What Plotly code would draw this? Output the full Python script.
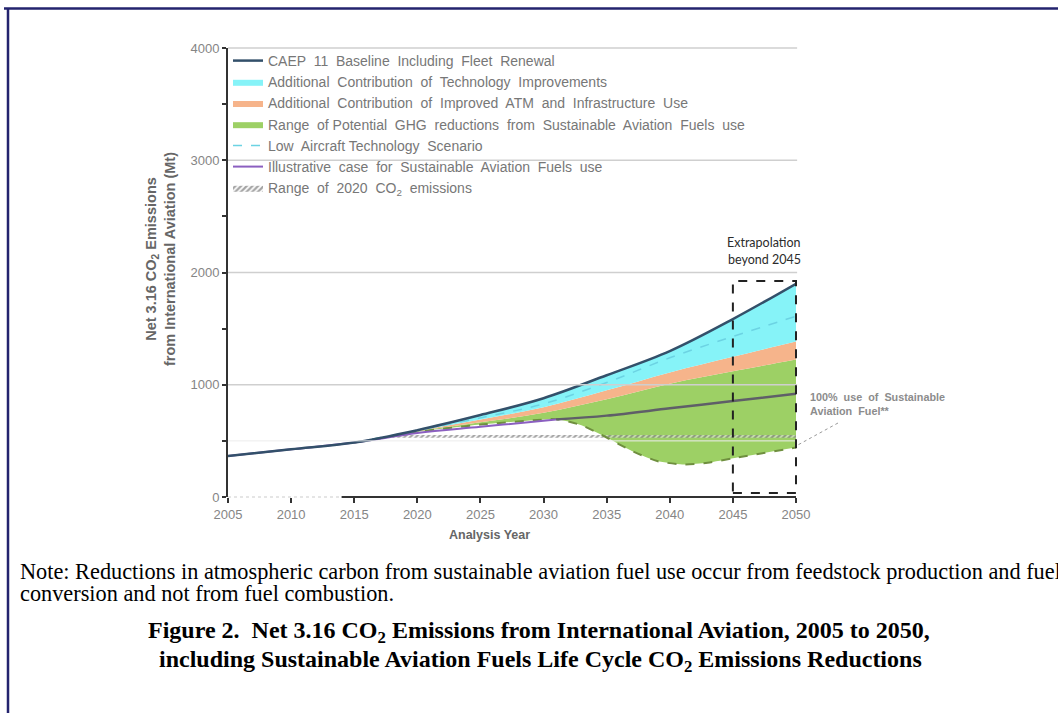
import plotly.graph_objects as go

# ---- data (Mt CO2) ----
years = [2005, 2010, 2015, 2020, 2025, 2030, 2035, 2040, 2045, 2050]
baseline = [365, 425, 485, 595, 730, 880, 1085, 1300, 1585, 1900]

band_years = [2015, 2020, 2025, 2030, 2035, 2040, 2045, 2050]
atm_top = [485, 590, 690, 800, 950, 1110, 1250, 1385]
saf_top = [485, 585, 665, 750, 870, 1010, 1120, 1225]
low_tech = [485, 592, 705, 830, 1020, 1240, 1430, 1610]

saf_low_years = [2015, 2020, 2025, 2030, 2031, 2033, 2035, 2037, 2039, 2041, 2043, 2045, 2050]
saf_low = [485, 580, 645, 690, 695, 640, 530, 410, 320, 290, 305, 345, 440]

saf_case_years = [2005, 2010, 2015, 2020, 2025, 2030, 2031]
saf_case = [365, 425, 485, 570, 625, 680, 690]
saf_full_years = [2031, 2035, 2040, 2045, 2050]
saf_full = [690, 725, 790, 855, 920]

range2020_years = [2018, 2050]
range2020_low = [528, 528]
range2020_high = [552, 552]

x_ticks = [2005, 2010, 2015, 2020, 2025, 2030, 2035, 2040, 2045, 2050]
y_ticks = [0, 500, 1000, 1500, 2000, 2500, 3000, 3500, 4000]
y_labels = ["0", "", "1000", "", "2000", "", "3000", "", "4000"]
grid_levels = [1000, 2000, 3000, 4000]

X0, X1 = 2005, 2050
Y0, Y1 = 0, 4000

SANS = "Liberation Sans, Arial, sans-serif"
SERIF = "Liberation Serif, Times New Roman, serif"

C_BASE = "#33506a"
C_TECH = "#86f3f8"
C_ATM = "#f6b48b"
C_SAF = "#9dd065"
C_LOW = "#6cd3e3"
C_PURPLE = "#8b5fc0"
C_GREY = "#5f5f68"
C_OLIVE = "#6f8f3f"

fig = go.Figure()

# stacked bands: SAF range, ATM, technology
fig.add_trace(go.Scatter(x=saf_low_years, y=saf_low, mode="lines",
                         line=dict(width=0, shape="spline", smoothing=0.6),
                         showlegend=False, hoverinfo="skip"))
fig.add_trace(go.Scatter(x=band_years, y=saf_top, mode="lines", fill="tonexty",
                         fillcolor=C_SAF, line=dict(width=0, color=C_SAF, shape="spline"),
                         name="Range  of Potential  GHG  reductions  from  Sustainable  Aviation  Fuels  use",
                         legendrank=4))
fig.add_trace(go.Scatter(x=band_years, y=atm_top, mode="lines", fill="tonexty",
                         fillcolor=C_ATM, line=dict(width=0, color=C_ATM, shape="spline"),
                         name="Additional  Contribution  of  Improved  ATM  and  Infrastructure  Use",
                         legendrank=3))
fig.add_trace(go.Scatter(x=band_years, y=baseline[2:], mode="lines", fill="tonexty",
                         fillcolor=C_TECH, line=dict(width=0, color=C_TECH, shape="spline"),
                         name="Additional  Contribution  of  Technology  Improvements",
                         legendrank=2))

# range of 2020 emissions (hatched)
fig.add_trace(go.Scatter(x=range2020_years, y=range2020_low, mode="lines",
                         line=dict(width=0), showlegend=False, hoverinfo="skip"))
fig.add_trace(go.Scatter(x=range2020_years, y=range2020_high, mode="lines", fill="tonexty",
                         fillcolor="rgba(255,255,255,0.5)",
                         fillpattern=dict(shape="/", fgcolor="#4a4a4a", bgcolor="rgba(255,255,255,0.5)",
                                          size=4, solidity=0.55),
                         line=dict(width=0),
                         name="Range  of  2020  CO<sub>2</sub>  emissions", legendrank=7))

# lower SAF bound (dashed)
fig.add_trace(go.Scatter(x=saf_low_years, y=saf_low, mode="lines",
                         line=dict(width=2, color=C_OLIVE, dash="dash", shape="spline", smoothing=0.6),
                         showlegend=False, hoverinfo="skip"))

# low aircraft technology scenario
fig.add_trace(go.Scatter(x=band_years, y=low_tech, mode="lines",
                         line=dict(width=1.5, color=C_LOW, dash="dash", shape="spline"),
                         name="Low  Aircraft Technology  Scenario", legendrank=5))

# illustrative SAF case
fig.add_trace(go.Scatter(x=saf_case_years, y=saf_case, mode="lines",
                         line=dict(width=2, color=C_PURPLE, shape="spline"),
                         name="Illustrative  case  for  Sustainable  Aviation  Fuels  use",
                         legendrank=6))
fig.add_trace(go.Scatter(x=saf_full_years, y=saf_full, mode="lines",
                         line=dict(width=2.5, color=C_GREY, shape="spline"),
                         showlegend=False, hoverinfo="skip"))

# baseline
fig.add_trace(go.Scatter(x=years, y=baseline, mode="lines",
                         line=dict(width=2.5, color=C_BASE, shape="spline"),
                         name="CAEP  11  Baseline  Including  Fleet  Renewal", legendrank=1))

# ---- helpers to position page furniture in paper units ----
L, R, T, B = 228, 262, 48, 216
W, H = 1058, 713
PW, PH = W - L - R, H - T - B


def px(xp):
    return (xp - L) / PW


def py(yp):
    return (H - B - yp) / PH


def xdata(v):
    return (v - X0) / (X1 - X0)


def ydata(v):
    return (v - Y0) / (Y1 - Y0)


shapes = []
# horizontal grid lines above fills
shapes.append(dict(type="line", xref="paper", yref="paper", x0=0, x1=1,
                   y0=ydata(500), y1=ydata(500), line=dict(color="#ececec", width=1), layer="above"))
for g in grid_levels:
    shapes.append(dict(type="line", xref="paper", yref="paper", x0=0, x1=1.002,
                       y0=ydata(g), y1=ydata(g), line=dict(color="#cfcfcf", width=1.5), layer="above"))

# x axis line: faint dashed part then solid
shapes.append(dict(type="line", xref="paper", yref="paper", x0=0, x1=xdata(2014),
                   y0=0, y1=0, line=dict(color="#dddddd", width=1.5, dash="dot"), layer="above"))
shapes.append(dict(type="line", xref="paper", yref="paper", x0=xdata(2014), x1=1,
                   y0=0, y1=0, line=dict(color="#333333", width=2), layer="above"))

# extrapolation box
shapes.append(dict(type="rect", xref="paper", yref="paper",
                   x0=xdata(2045), x1=xdata(2050), y0=ydata(35), y1=ydata(1925),
                   line=dict(color="#222222", width=2, dash="dash"), layer="above"))

# leader line for the 100% SAF label
shapes.append(dict(type="line", xref="paper", yref="paper",
                   x0=px(838), y0=py(423), x1=1.0, y1=py(446),
                   line=dict(color="#9a9a9a", width=1, dash="dot"), layer="above"))

# page frame
shapes.append(dict(type="line", xref="paper", yref="paper", x0=px(4), x1=px(W),
                   y0=py(8.5), y1=py(8.5), line=dict(color="#23236e", width=2.5)))
shapes.append(dict(type="line", xref="paper", yref="paper", x0=px(8), x1=px(8),
                   y0=py(8), y1=py(H), line=dict(color="#23236e", width=2.5)))

annotations = [
    dict(text="<b>Net 3.16 CO<sub>2</sub> Emissions</b><br><b>from International Aviation (Mt)</b>",
         xref="paper", yref="paper", x=px(160), y=py(259), textangle=-90,
         showarrow=False, xanchor="center", yanchor="middle",
         font=dict(family=SANS, size=14.5, color="#666666")),
    dict(text="<b>Analysis Year</b>", xref="paper", yref="paper", x=px(489), y=py(535),
         showarrow=False, xanchor="center", yanchor="middle",
         font=dict(family=SANS, size=12.5, color="#666666")),
    dict(text="Extrapolation", xref="paper", yref="paper", x=px(803), y=py(242),
         showarrow=False, xanchor="right", yanchor="middle",
         font=dict(family="Lato, Open Sans, sans-serif", size=12.5, color="#2b2b2b")),
    dict(text="beyond 2045", xref="paper", yref="paper", x=px(803), y=py(259),
         showarrow=False, xanchor="right", yanchor="middle",
         font=dict(family="Lato, Open Sans, sans-serif", size=12.5, color="#2b2b2b")),
    dict(text="<b>100%  use  of  Sustainable</b>", xref="paper", yref="paper", x=px(808), y=py(397),
         showarrow=False, xanchor="left", yanchor="middle",
         font=dict(family=SANS, size=10.8, color="#8c8c8c")),
    dict(text="<b>Aviation  Fuel**</b>", xref="paper", yref="paper", x=px(808), y=py(411),
         showarrow=False, xanchor="left", yanchor="middle",
         font=dict(family=SANS, size=10.8, color="#8c8c8c")),
    dict(text="Note: Reductions in atmospheric carbon from sustainable aviation fuel use occur from feedstock production and fuel",
         xref="paper", yref="paper", x=px(18), y=py(571),
         showarrow=False, xanchor="left", yanchor="middle",
         font=dict(family=SERIF, size=22.3, color="#000000")),
    dict(text="conversion and not from fuel combustion.",
         xref="paper", yref="paper", x=px(18), y=py(593),
         showarrow=False, xanchor="left", yanchor="middle",
         font=dict(family=SERIF, size=22.3, color="#000000")),
    dict(text="<b>Figure 2.  Net 3.16 CO<sub>2</sub> Emissions from International Aviation, 2005 to 2050,</b>",
         xref="paper", yref="paper", x=px(539), y=py(632),
         showarrow=False, xanchor="center", yanchor="middle",
         font=dict(family=SERIF, size=24, color="#000000")),
    dict(text="<b>including Sustainable Aviation Fuels Life Cycle CO<sub>2</sub> Emissions Reductions</b>",
         xref="paper", yref="paper", x=px(540), y=py(661),
         showarrow=False, xanchor="center", yanchor="middle",
         font=dict(family=SERIF, size=24, color="#000000")),
]

fig.update_layout(
    width=W, height=H, autosize=False,
    margin=dict(l=L, r=R, t=T, b=B, pad=0),
    paper_bgcolor="white", plot_bgcolor="white",
    font=dict(family=SANS, color="#8a8a8a"),
    showlegend=True,
    legend=dict(x=0.0, y=1.0067, xanchor="left", yanchor="top",
                bgcolor="rgba(0,0,0,0)", borderwidth=0, traceorder="normal",
                font=dict(family=SANS, size=14, color="#777777")),
    xaxis=dict(range=[X0, X1], tickvals=x_ticks, ticks="outside", ticklen=5, tickwidth=1.5,
               tickcolor="#333333", showgrid=False, zeroline=False, showline=False,
               tickfont=dict(family=SANS, size=13, color="#858585")),
    yaxis=dict(range=[Y0, Y1], tickvals=y_ticks, ticktext=y_labels, ticks="outside", ticklen=4,
               tickwidth=1.5, tickcolor="#333333", showgrid=False, zeroline=False,
               showline=True, linecolor="#333333", linewidth=2,
               tickfont=dict(family=SANS, size=13, color="#858585")),
    shapes=shapes,
    annotations=annotations,
)

fig.write_html("out.html")
